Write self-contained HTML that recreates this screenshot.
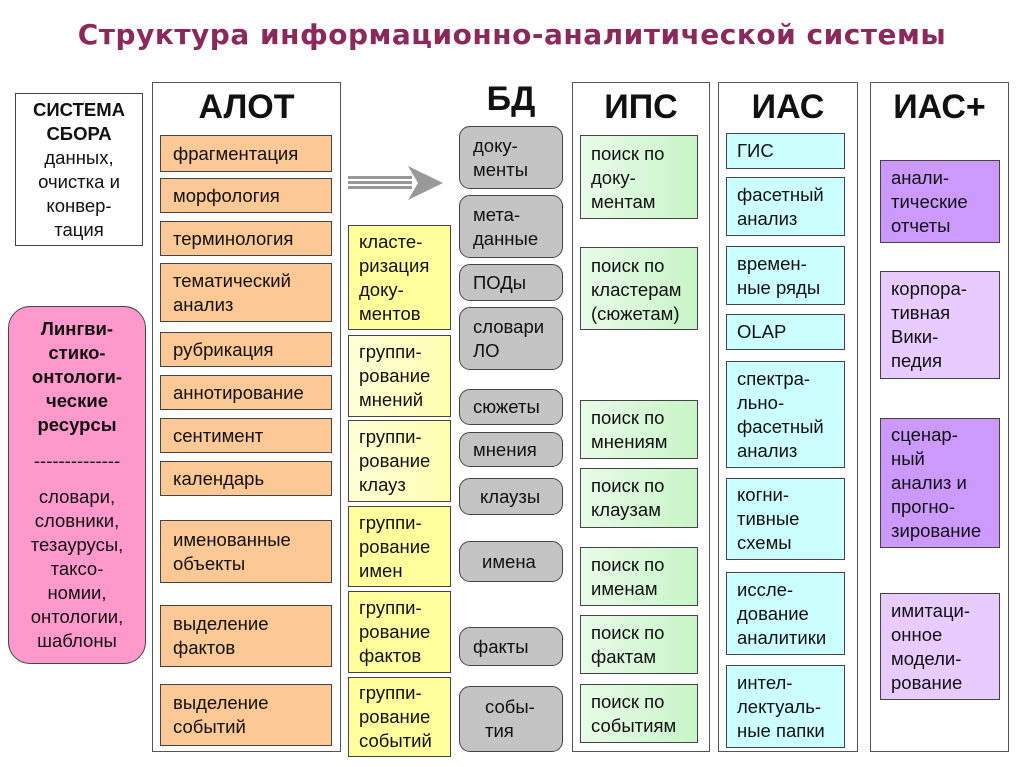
<!DOCTYPE html>
<html><head><meta charset="utf-8"><style>
body{margin:0;width:1024px;height:767px;background:#fff;position:relative;overflow:hidden;font-family:"Liberation Sans",Arial,sans-serif;}
.b{position:absolute;box-sizing:border-box;border:1.5px solid #444;display:flex;flex-direction:column;justify-content:center;font-size:18.5px;line-height:24px;color:#111;padding-left:12px;white-space:nowrap;}
.f{position:absolute;box-sizing:border-box;border:1.5px solid #555;background:#fff;}
.h{position:absolute;font-weight:bold;font-size:34px;text-align:center;color:#111;}
.o{background:#fcc895;left:160px;width:172px;}
.y{background:#ffff9c;left:348px;width:103px;padding-left:10px;}
.yl{background:linear-gradient(90deg,#ffffd8,#ffffb0);}
.g{background:#c4c4c4;left:459px;width:104px;border-radius:11px;padding-left:13px;}
.gr{background:linear-gradient(90deg,#e8fbe8,#c8f5c8);left:580px;width:118px;padding-left:10px;}
.c{background:#ccffff;left:726px;width:119px;padding-left:10px;}
.p{background:#cc99ff;left:880px;width:120px;padding-left:10px;}
.pl{background:#e8ccff;}
</style></head><body>
<div style="position:absolute;top:18px;left:0;width:1024px;text-align:center;font-family:'DejaVu Sans',sans-serif;font-weight:bold;font-size:28px;color:#8a2a5c;letter-spacing:0.5px">Структура информационно-аналитической системы</div>

<div class="b" style="left:15px;top:93px;width:128px;height:153px;background:#fff;text-align:center;padding:0;"><b>СИСТЕМА<br>СБОРА</b>данных,<br>очистка и<br>конвер-<br>тация</div>
<div class="b" style="left:8px;top:306px;width:138px;height:358px;background:#ff99cc;border-radius:22px;text-align:center;padding:0;line-height:24px"><b>Лингви-<br>стико-<br>онтологи-<br>ческие<br>ресурсы</b><div style="height:12px"></div>--------------<div style="height:12px"></div>словари,<br>словники,<br>тезаурусы,<br>таксо-<br>номии,<br>онтологии,<br>шаблоны</div>

<div class="f" style="left:152px;top:82px;width:189px;height:670px"></div>
<div class="h" style="left:152px;top:88px;width:189px">АЛОТ</div>
<div class="b o" style="top:135px;height:37px">фрагментация</div>
<div class="b o" style="top:178px;height:35px">морфология</div>
<div class="b o" style="top:221px;height:35px">терминология</div>
<div class="b o" style="top:263px;height:59px">тематический<br>анализ</div>
<div class="b o" style="top:332px;height:35px">рубрикация</div>
<div class="b o" style="top:375px;height:35px">аннотирование</div>
<div class="b o" style="top:418px;height:35px">сентимент</div>
<div class="b o" style="top:461px;height:35px">календарь</div>
<div class="b o" style="top:520px;height:63px">именованные<br>объекты</div>
<div class="b o" style="top:605px;height:62px">выделение<br>фактов</div>
<div class="b o" style="top:684px;height:62px">выделение<br>событий</div>

<svg style="position:absolute;left:346px;top:160px" width="100" height="46"><rect x="2" y="16" width="64" height="3" fill="#999"/><rect x="2" y="21" width="64" height="3" fill="#999"/><rect x="2" y="26" width="64" height="3" fill="#999"/><polygon points="62,6 97,23 62,40 72,23" fill="#999"/></svg>

<div class="b y" style="top:225px;height:105px">класте-<br>ризация<br>доку-<br>ментов</div>
<div class="b y yl" style="top:335px;height:82px">группи-<br>рование<br>мнений</div>
<div class="b y yl" style="top:420px;height:82px">группи-<br>рование<br>клауз</div>
<div class="b y" style="top:506px;height:81px">группи-<br>рование<br>имен</div>
<div class="b y" style="top:591px;height:82px">группи-<br>рование<br>фактов</div>
<div class="b y" style="top:677px;height:80px">группи-<br>рование<br>событий</div>

<div class="h" style="left:459px;top:80px;width:104px">БД</div>
<div class="b g" style="top:126px;height:63px">доку-<br>менты</div>
<div class="b g" style="top:195px;height:63px">мета-<br>данные</div>
<div class="b g" style="top:264px;height:37px">ПОДы</div>
<div class="b g" style="top:307px;height:63px">словари<br>ЛО</div>
<div class="b g" style="top:389px;height:36px">сюжеты</div>
<div class="b g" style="top:432px;height:35px">мнения</div>
<div class="b g" style="top:478px;height:37px;padding-left:20px">клаузы</div>
<div class="b g" style="top:541px;height:41px;padding-left:22px">имена</div>
<div class="b g" style="top:627px;height:39px">факты</div>
<div class="b g" style="top:686px;height:66px;padding-left:25px">собы-<br>тия</div>

<div class="f" style="left:572px;top:82px;width:138px;height:670px"></div>
<div class="h" style="left:572px;top:88px;width:138px">ИПС</div>
<div class="b gr" style="top:135px;height:84px;justify-content:flex-start;padding-top:6px">поиск по<br>доку-<br>ментам</div>
<div class="b gr" style="top:247px;height:83px;justify-content:flex-start;padding-top:6px">поиск по<br>кластерам<br>(сюжетам)</div>
<div class="b gr" style="top:400px;height:59px">поиск по<br>мнениям</div>
<div class="b gr" style="top:468px;height:60px">поиск по<br>клаузам</div>
<div class="b gr" style="top:547px;height:59px">поиск по<br>именам</div>
<div class="b gr" style="top:615px;height:59px">поиск по<br>фактам</div>
<div class="b gr" style="top:684px;height:59px">поиск по<br>событиям</div>

<div class="f" style="left:718px;top:82px;width:140px;height:670px"></div>
<div class="h" style="left:718px;top:88px;width:140px">ИАС</div>
<div class="b c" style="top:133px;height:36px">ГИС</div>
<div class="b c" style="top:177px;height:59px">фасетный<br>анализ</div>
<div class="b c" style="top:246px;height:59px">времен-<br>ные ряды</div>
<div class="b c" style="top:314px;height:36px">OLAP</div>
<div class="b c" style="top:361px;height:107px">спектра-<br>льно-<br>фасетный<br>анализ</div>
<div class="b c" style="top:478px;height:82px">когни-<br>тивные<br>схемы</div>
<div class="b c" style="top:572px;height:83px">иссле-<br>дование<br>аналитики</div>
<div class="b c" style="top:665px;height:83px">интел-<br>лектуаль-<br>ные папки</div>

<div class="f" style="left:870px;top:82px;width:139px;height:670px"></div>
<div class="h" style="left:870px;top:88px;width:139px">ИАС+</div>
<div class="b p" style="top:160px;height:83px">анали-<br>тические<br>отчеты</div>
<div class="b p pl" style="top:271px;height:108px">корпора-<br>тивная<br>Вики-<br>педия</div>
<div class="b p" style="top:418px;height:130px">сценар-<br>ный<br>анализ и<br>прогно-<br>зирование</div>
<div class="b p pl" style="top:593px;height:107px">имитаци-<br>онное<br>модели-<br>рование</div>
</body></html>
